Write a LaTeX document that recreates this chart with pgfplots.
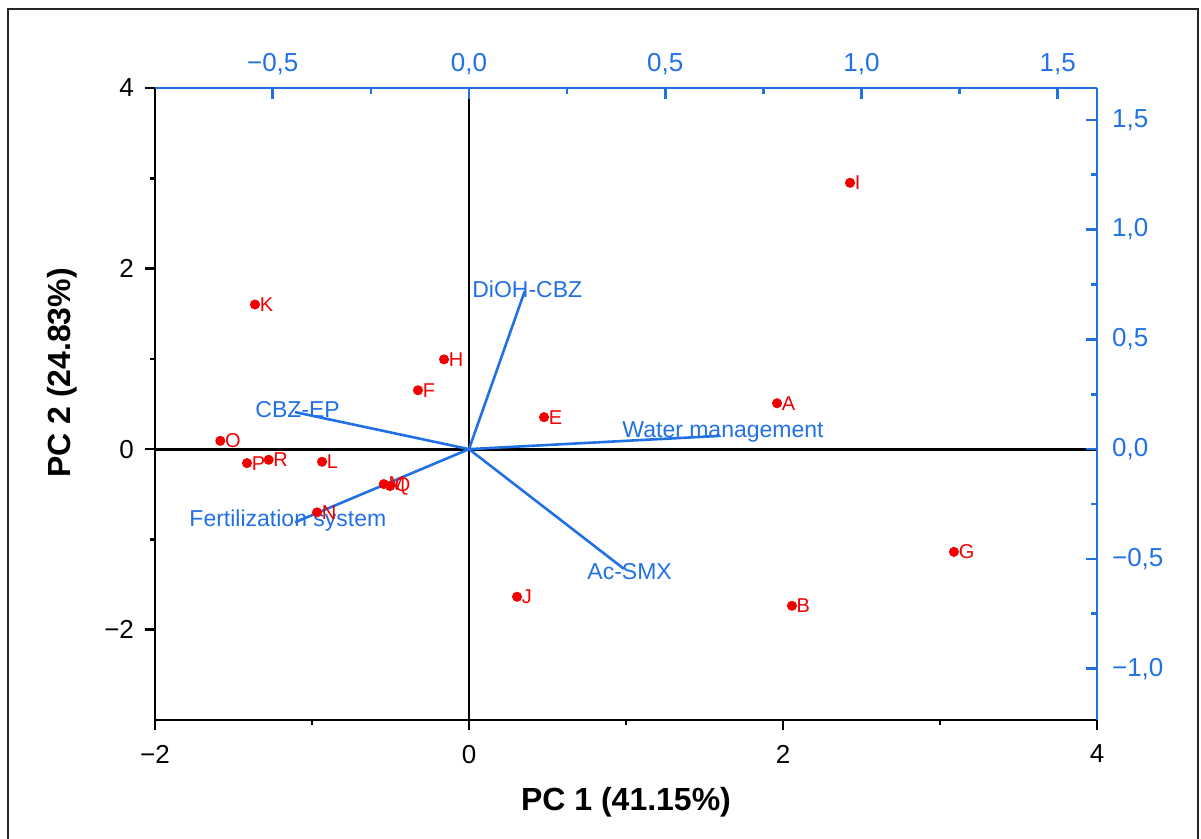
\documentclass[border=0pt]{standalone}
\usepackage{pgfplots}
\pgfplotsset{compat=1.18}
\usepackage{pgfplotstable}
\usepackage{fontspec}
\setmainfont{Liberation Sans}
\definecolor{pblue}{RGB}{34,113,228}
\definecolor{pred}{RGB}{240,0,0}
\pgfplotstableread{
x y label
2.427 2.950 I
-1.363 1.602 K
-0.159 0.994 H
-0.325 0.652 F
0.478 0.354 E
1.962 0.508 A
-1.584 0.092 O
-1.414 -0.155 P
-1.276 -0.118 R
-0.936 -0.140 L
-0.968 -0.700 N
-0.543 -0.387 M
-0.503 -0.409 Q
0.306 -1.635 J
2.057 -1.735 B
3.089 -1.138 G
}\scores
\begin{document}
\begin{tikzpicture}
\begin{axis}[
  scale only axis, width=471pt, height=316pt,
  xmin=-2, xmax=4, ymin=-3, ymax=4,
  axis x line*=bottom, axis y line*=left,
  axis line style={line width=1.4pt, black},
  xtick={-2,0,2,4}, xticklabels={−2,0,2,4},
  ytick={-2,0,2,4}, yticklabels={−2,0,2,4},
  minor x tick num=1, minor y tick num=1,
  tick align=outside,
  major tick length=5pt, minor tick length=2.5pt,
  tick style={line width=1.3pt, black},
  ticklabel style={font=\fontsize{13}{15}\selectfont},
  xticklabel style={yshift=-4pt},
  yticklabel style={xshift=-2pt},
  xlabel={\textbf{PC 1 (41.15\%)}},
  ylabel={\textbf{PC 2 (24.83\%)}},
  label style={font=\fontsize{16}{18}\selectfont},
  xlabel style={at={(axis description cs:0.5,-0.13)}, anchor=center},
  ylabel style={at={(axis description cs:-0.0987,0.549)}, anchor=center, rotate=0},
  clip=false,
]
\addplot[black, line width=1.4pt] coordinates {(-2,0) (4,0)};
\addplot[black, line width=1.4pt] coordinates {(0,-3) (0,4)};
\addplot[pblue, line width=1.3pt] coordinates {(0,0) (0.355,1.75)};
\addplot[pblue, line width=1.3pt] coordinates {(0,0) (-1.108,0.41)};
\addplot[pblue, line width=1.3pt] coordinates {(0,0) (1.60,0.147)};
\addplot[pblue, line width=1.3pt] coordinates {(0,0) (-1.108,-0.81)};
\addplot[pblue, line width=1.3pt] coordinates {(0,0) (0.987,-1.326)};
\node[anchor=west, inner sep=0pt, pblue, font=\fontsize{11.5}{13}\selectfont] at (axis cs:0.019,1.768) {DiOH-CBZ};
\node[anchor=west, inner sep=0pt, pblue, font=\fontsize{11.5}{13}\selectfont] at (axis cs:-1.363,0.442) {CBZ-EP};
\node[anchor=west, inner sep=0pt, pblue, font=\fontsize{11.5}{13}\selectfont] at (axis cs:0.975,0.188) {Water management};
\node[anchor=west, inner sep=0pt, pblue, font=\fontsize{11.5}{13}\selectfont] at (axis cs:-1.783,-0.796) {Fertilization system};
\node[anchor=west, inner sep=0pt, pblue, font=\fontsize{11.5}{13}\selectfont] at (axis cs:0.752,-1.359) {Ac-SMX};
\addplot[only marks, mark=*, mark size=2.3pt, pred, draw=pred, fill=pred,
  nodes near coords, point meta=explicit symbolic,
  nodes near coords style={anchor=west, inner sep=0pt, xshift=2.2pt, text=pred, font=\fontsize{10}{12}\selectfont}]
  table[x=x, y=y, meta=label] {\scores};
\end{axis}
\begin{axis}[
  scale only axis, width=471pt, height=316pt,
  xmin=-0.8, xmax=1.6, ymin=-1.234, ymax=1.645,
  axis x line*=top, axis y line*=right,
  axis line style={line width=1.4pt, pblue},
  xtick={-0.5,0,0.5,1,1.5}, xticklabels={{−0,5},{0,0},{0,5},{1,0},{1,5}},
  ytick={-1,-0.5,0,0.5,1,1.5}, yticklabels={{−1,0},{−0,5},{0,0},{0,5},{1,0},{1,5}},
  minor x tick num=1, minor y tick num=1,
  tick align=inside,
  major tick length=5.5pt, minor tick length=2.8pt,
  tick style={line width=1.3pt, pblue},
  ticklabel style={font=\fontsize{13}{15}\selectfont, text=pblue},
  xticklabel style={yshift=3pt},
  yticklabel style={xshift=4pt},
]
\addplot[draw=none] coordinates {(0,0)};
\end{axis}
\draw[line width=1pt, black!85] (-73.5pt,-62pt) -- (-73.5pt,355.5pt) -- (521.5pt,355.5pt) -- (521.5pt,-62pt);
\pgfresetboundingbox
\path[use as bounding box] (-77.5pt,-59.5pt) rectangle (523pt,360pt);
\end{tikzpicture}
\end{document}
